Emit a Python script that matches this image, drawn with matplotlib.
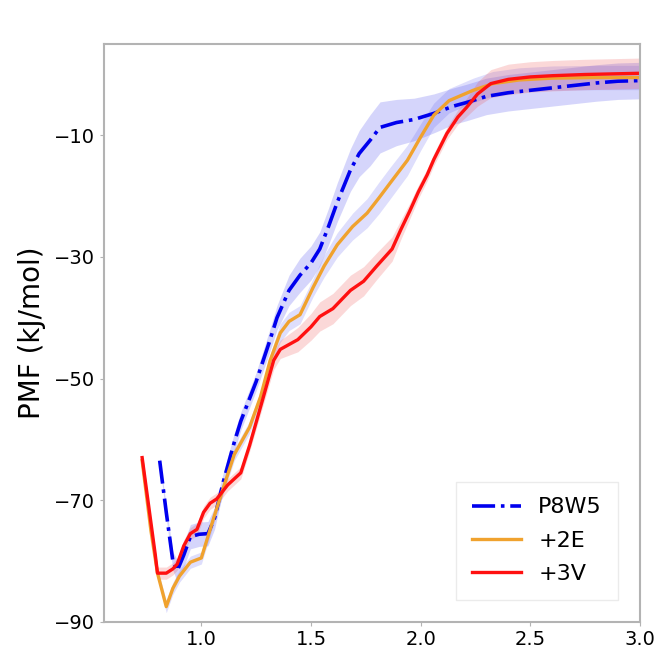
import numpy as np
import matplotlib
matplotlib.use("Agg")
import matplotlib.pyplot as plt

# ---- data ----
x_p8w5 = [0.81, 0.84, 0.87, 0.89, 0.92, 0.95, 0.99, 1.03, 1.06, 1.10, 1.15, 1.18, 1.25,
          1.31, 1.345, 1.40, 1.45, 1.50, 1.54, 1.58, 1.62, 1.68, 1.72, 1.77, 1.815, 1.89, 1.97,
          2.06, 2.15, 2.21, 2.30, 2.40, 2.50, 2.60, 2.70, 2.80, 2.90, 3.0]
y_p8w5 = [-63.5, -72, -80, -81.6, -79, -76, -75.6, -75.5, -73, -67, -60.5, -57, -50.5,
          -44, -40, -35.5, -33, -31, -28.7, -25, -21, -15.7, -13, -10.8, -8.7, -7.9, -7.4,
          -6.4, -5.2, -4.6, -3.6, -3.0, -2.6, -2.2, -1.8, -1.4, -1.1, -1.0]
e_p8w5 = [0.5, 1.0, 1.5, 1.8, 2.0, 2.0, 2.0, 2.0, 1.8, 1.5, 1.5, 1.5, 1.5,
          1.8, 2.0, 2.5, 2.8, 2.8, 2.8, 3.0, 3.2, 3.5, 3.8, 4.2, 4.2, 3.8, 3.5,
          3.2, 3.0, 3.0, 3.0, 3.0, 3.0, 3.0, 3.0, 3.0, 3.0, 3.0]

x_2e = [0.73, 0.77, 0.80, 0.84, 0.87, 0.90, 0.95, 1.00, 1.03, 1.06, 1.10, 1.15, 1.22,
        1.27, 1.314, 1.36, 1.40, 1.45, 1.51, 1.56, 1.62, 1.69, 1.756, 1.81, 1.86, 1.94,
        2.00, 2.06, 2.13, 2.24, 2.33, 2.45, 2.6, 2.8, 3.0]
y_2e = [-63.5, -75, -82, -87.5, -84.5, -82.5, -80.2, -79.5, -76, -72.5, -68, -62.5, -58,
        -53, -47, -42.5, -40.6, -39.5, -35, -31.5, -28, -25, -22.8, -20.3, -17.9, -14.1,
        -10.3, -6.7, -4.3, -2.6, -1.5, -0.9, -0.6, -0.5, -0.5]
e_2e = [0.3, 0.5, 0.8, 1.0, 1.0, 1.0, 1.0, 1.0, 1.0, 1.0, 1.0, 1.0, 1.0,
        1.0, 1.0, 1.5, 1.5, 1.5, 1.5, 1.8, 2.0, 2.2, 2.4, 2.6, 2.6, 2.5,
        2.2, 2.0, 2.0, 2.0, 2.0, 2.0, 2.0, 2.0, 2.0]

x_3v = [0.73, 0.76, 0.79, 0.80, 0.84, 0.87, 0.89, 0.92, 0.95, 0.98, 1.01, 1.04, 1.07,
        1.12, 1.18, 1.22, 1.28, 1.33, 1.36, 1.44, 1.50, 1.54, 1.60, 1.68, 1.74,
        1.80, 1.87, 1.91, 1.95, 1.99, 2.03, 2.06, 2.12, 2.17, 2.21, 2.26, 2.32, 2.40,
        2.50, 2.60, 2.75, 3.0]
y_3v = [-63, -71, -79, -82, -82, -81.3, -80.5, -77.5, -75.5, -74.8, -72, -70.5, -69.8,
        -67.5, -65.5, -61, -53.4, -47, -45.2, -43.6, -41.5, -39.8, -38.5, -35.5, -34,
        -31.5, -28.7, -25.5, -22.5, -19.3, -16.5, -14, -9.7, -7, -5.4, -3.2, -1.5, -0.8,
        -0.4, -0.2, 0.0, 0.2]
e_3v = [0.3, 0.5, 0.8, 1.0, 1.0, 1.0, 1.0, 1.0, 1.0, 1.0, 1.0, 1.0, 1.0,
        1.0, 1.0, 1.0, 1.2, 1.5, 1.5, 2.0, 2.2, 2.4, 2.5, 2.5, 2.4,
        2.2, 2.0, 1.6, 1.3, 1.1, 1.0, 1.0, 1.0, 1.2, 1.5, 2.0, 2.3, 2.5, 2.5, 2.5, 2.5, 2.5]

labels = ["P8W5", "+2E", "+3V"]
xticks = [1.0, 1.5, 2.0, 2.5, 3.0]
yticks = [-90, -70, -50, -30, -10]

# ---- figure ----
fig = plt.figure(figsize=(6.61, 6.58), dpi=100)
ax = fig.add_axes([0.157, 0.055, 0.811, 0.878])

blue = "#0000ee"
orange = "#f0a22e"
red = "#ff1010"

def band(x, y, e, c, a):
    x = np.asarray(x); y = np.asarray(y); e = np.asarray(e)
    ax.fill_between(x, y - e, y + e, color=c, alpha=a, linewidth=0)

band(x_p8w5, y_p8w5, e_p8w5, "#5a5af0", 0.25)
band(x_2e, y_2e, e_2e, "#5a5af0", 0.2)
band(x_3v, y_3v, e_3v, "#f05050", 0.22)

ax.plot(x_p8w5, y_p8w5, "-.", color=blue, lw=2.6, label=labels[0])
ax.plot(x_2e, y_2e, "-", color=orange, lw=2.4, label=labels[1])
ax.plot(x_3v, y_3v, "-", color=red, lw=2.4, label=labels[2])

ax.set_xlim(0.555, 3.0)
ax.set_ylim(-90, 5)
ax.set_xticks(xticks)
ax.set_yticks(yticks)
ax.set_yticklabels(["\u221290", "\u221270", "\u221250", "\u221230", "\u221210"])
ax.tick_params(labelsize=14, length=3, color="0.7", pad=3)
for s in ax.spines.values():
    s.set_color("0.7")
    s.set_linewidth(1.5)

ax.set_ylabel("PMF (kJ/mol)", fontsize=20, labelpad=6)
ax.set_xlabel("R (nm)", fontsize=20, labelpad=6)

leg = ax.legend(loc="lower right", fontsize=16, frameon=True, borderaxespad=1.0,
                handlelength=2.2, borderpad=0.7, labelspacing=0.6, fancybox=False)
leg.get_frame().set_edgecolor("0.9")

fig.savefig("out.png", dpi=100)
